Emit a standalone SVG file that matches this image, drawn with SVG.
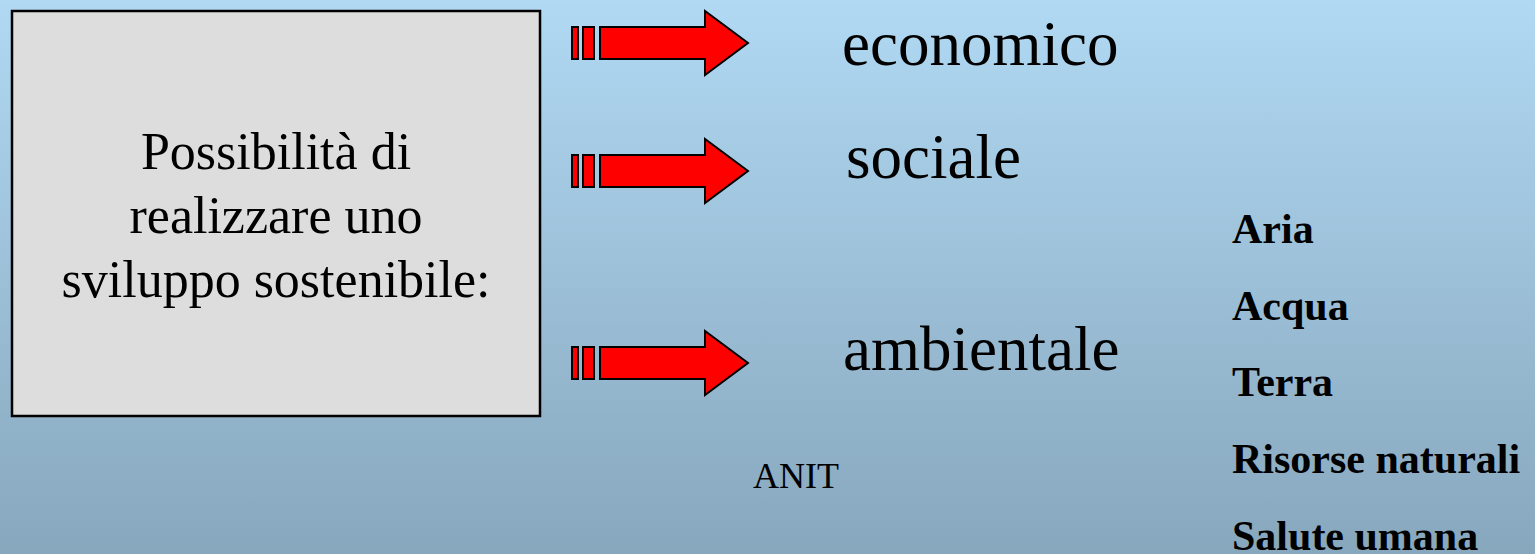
<svg xmlns="http://www.w3.org/2000/svg" xmlns:xlink="http://www.w3.org/1999/xlink" width="1535" height="554" viewBox="0 0 1535 554">
<style>
.serif{font-family:"Liberation Serif","Times New Roman",serif;fill:#000}
.big{font-size:63px}
.box{font-size:52px;text-anchor:middle}
.bold{font-size:42px;font-weight:bold}
.arrow{fill:#ff0000;stroke:#000;stroke-width:2;stroke-linejoin:miter}
</style>
<defs>
<linearGradient id="bg" x1="0" y1="0" x2="0" y2="1">
<stop offset="0" stop-color="#b1d9f3"/>
<stop offset="1" stop-color="#87a7bd"/>
</linearGradient>
<g id="arr">
<rect class="arrow" x="572" y="-16" width="6" height="32"/>
<rect class="arrow" x="583" y="-16" width="11" height="32"/>
<polygon class="arrow" points="600,-16 705,-16 705,-32 748,0 705,32 705,16 600,16"/>
</g>
</defs>
<rect x="0" y="0" width="1535" height="554" fill="url(#bg)"/>
<g id="box">
<rect x="12" y="11" width="528" height="405" fill="#dddddd" stroke="#000" stroke-width="2.5"/>
<text class="serif box" x="276" y="169">Possibilità di</text>
<text class="serif box" x="276" y="233">realizzare uno</text>
<text class="serif box" x="276" y="297">sviluppo sostenibile:</text>
</g>
<g id="connectors">
<use xlink:href="#arr" transform="translate(0,43)"/>
<use xlink:href="#arr" transform="translate(0,171)"/>
<use xlink:href="#arr" transform="translate(0,363)"/>
</g>
<g id="economico"><text class="serif big" x="842" y="65">economico</text></g>
<g id="sociale"><text class="serif big" x="846" y="178">sociale</text></g>
<g id="ambientale"><text class="serif big" x="843" y="370">ambientale</text></g>
<g id="anit"><text class="serif" x="753" y="488" font-size="36">ANIT</text></g>
<g id="list">
<text class="serif bold" x="1232" y="243">Aria</text>
<text class="serif bold" x="1232" y="320">Acqua</text>
<text class="serif bold" x="1232" y="396">Terra</text>
<text class="serif bold" x="1232" y="473">Risorse naturali</text>
<text class="serif bold" x="1232" y="550">Salute umana</text>
</g>
</svg>
